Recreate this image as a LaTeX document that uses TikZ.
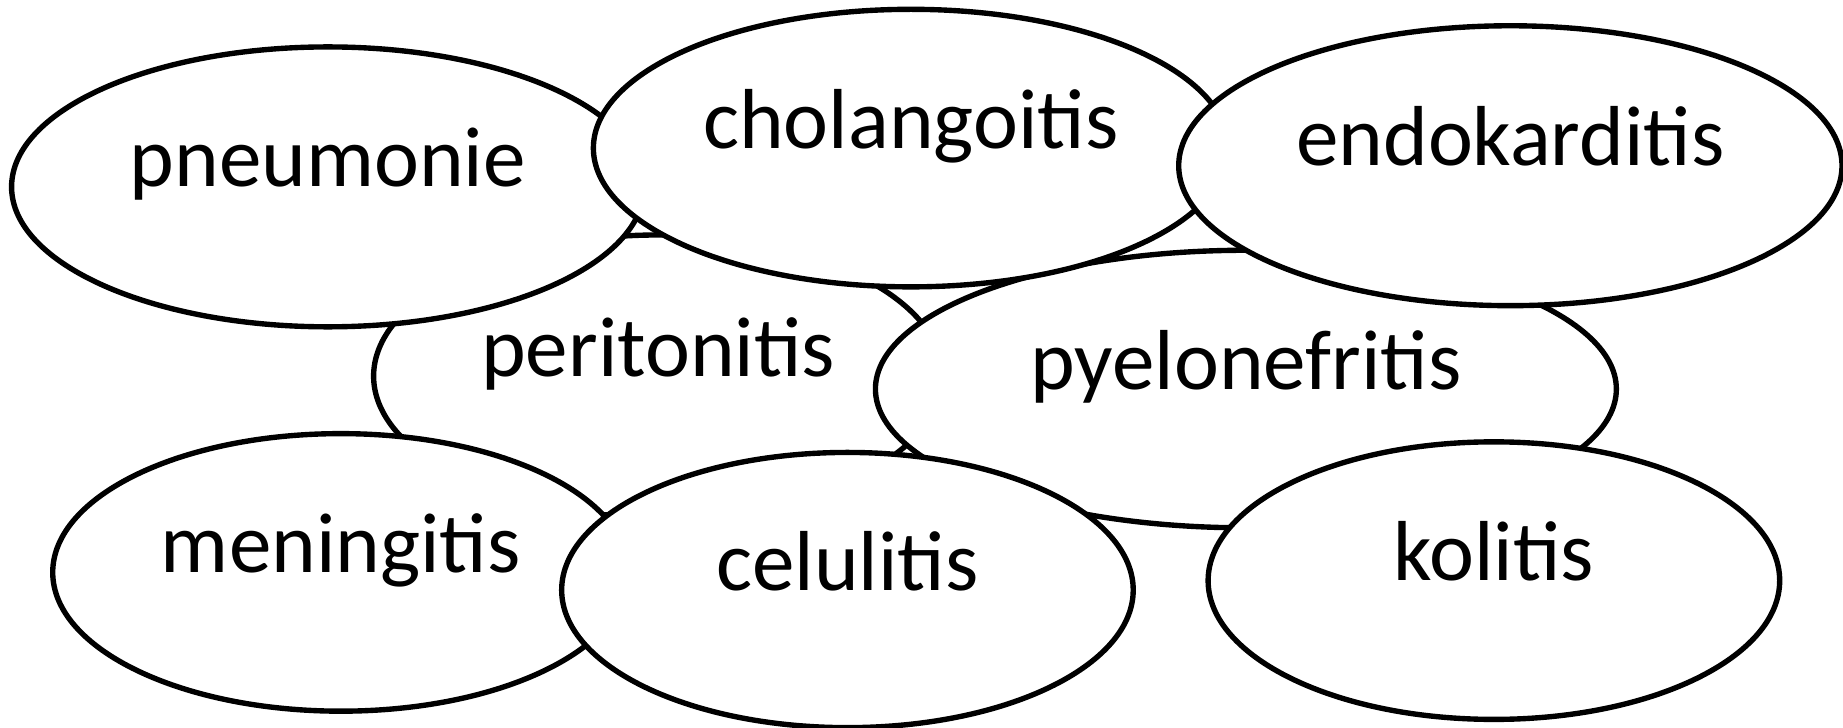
\documentclass[tikz,border=0pt]{standalone}
\usepackage{fontspec}
\setmainfont{Carlito}
\usepackage{tikz}
\usetikzlibrary{shapes.geometric}

\newcommand{\termfont}{\fontsize{20.6}{24}\selectfont}

\begin{document}
\begin{tikzpicture}[
    x=0.01cm, y=-0.01cm,
    blob/.style={draw, ellipse, fill=white, line width=1.3pt, inner sep=0pt},
    term/.style={anchor=base, inner sep=0pt, font=\termfont}
]
\useasboundingbox (0,0) rectangle (1568,619);

% back row first, so the front ones cover it
\node[blob, minimum width=4.84cm, minimum height=2.40cm] (perit) at (560,320) {};
\node[term] (perit-t) at (perit.center) {peritonitis};

\node[blob, minimum width=5.38cm, minimum height=2.38cm] (pneu) at (279,159) {};
\node[term] (pneu-t) at (pneu.center) {pneumonie};

\node[blob, minimum width=6.30cm, minimum height=2.36cm] (pyelo) at (1060,331) {};
\node[term] (pyelo-t) at (pyelo.center) {pyelonefritis};

\node[blob, minimum width=5.40cm, minimum height=2.36cm] (chol) at (775,126) {};
\node[term] (chol-t) at (chol.center) {cholangoitis};

\node[blob, minimum width=5.64cm, minimum height=2.38cm] (endo) at (1285,141) {};
\node[term] (endo-t) at (endo.center) {endokarditis};

% bottom row
\node[blob, minimum width=4.90cm, minimum height=2.36cm] (menin) at (290,487) {};
\node[term] (menin-t) at (menin.center) {meningitis};

\node[blob, minimum width=4.86cm, minimum height=2.34cm] (celul) at (721,502) {};
\node[term] (celul-t) at (celul.center) {celulitis};

\node[blob, minimum width=4.86cm, minimum height=2.36cm] (kolit) at (1271,494) {};
\node[term] (kolit-t) at (kolit.center) {kolitis};

\end{tikzpicture}
\end{document}
